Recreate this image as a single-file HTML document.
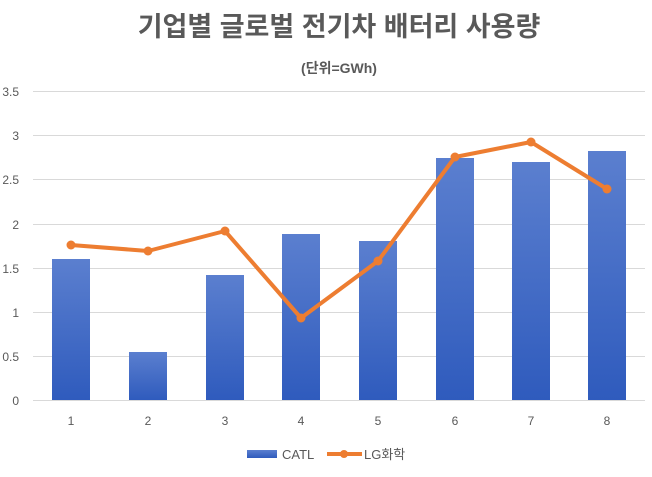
<!DOCTYPE html>
<html><head><meta charset="utf-8"><style>body{margin:0;background:#fff}</style></head><body>
<svg width="652" height="472" xmlns="http://www.w3.org/2000/svg" font-family="'Liberation Sans','Noto Sans CJK KR',sans-serif">
<defs><linearGradient id="g" x1="0" y1="0" x2="0" y2="1"><stop offset="0" stop-color="#5b7fcf"/><stop offset="1" stop-color="#2f5bbd"/></linearGradient></defs>
<rect width="652" height="472" fill="#fff"/>
<text x="339" y="36" text-anchor="middle" font-size="27" font-weight="bold" fill="#595959">기업별 글로벌 전기차 배터리 사용량</text>
<text x="339" y="73" text-anchor="middle" font-size="14" font-weight="bold" fill="#595959">(단위=GWh)</text>
<g stroke="#d9d9d9" stroke-width="1">
<line x1="33" y1="91.5" x2="645" y2="91.5"/><line x1="33" y1="135.5" x2="645" y2="135.5"/><line x1="33" y1="179.5" x2="645" y2="179.5"/><line x1="33" y1="224.5" x2="645" y2="224.5"/><line x1="33" y1="268.5" x2="645" y2="268.5"/><line x1="33" y1="312.5" x2="645" y2="312.5"/><line x1="33" y1="356.5" x2="645" y2="356.5"/><line x1="33" y1="400.5" x2="645" y2="400.5"/>
</g>
<g font-size="12" fill="#595959" text-anchor="end">
<text x="19" y="96">3.5</text><text x="19" y="140">3</text><text x="19" y="184">2.5</text><text x="19" y="229">2</text><text x="19" y="273">1.5</text><text x="19" y="317">1</text><text x="19" y="361">0.5</text><text x="19" y="405">0</text>
</g>
<g fill="url(#g)">
<rect x="52" y="259" width="38" height="141"/><rect x="129" y="352" width="38" height="48"/><rect x="206" y="275" width="38" height="125"/><rect x="282" y="234" width="38" height="166"/><rect x="359" y="241" width="38" height="159"/><rect x="436" y="158" width="38" height="242"/><rect x="512" y="162" width="38" height="238"/><rect x="588" y="151" width="38" height="249"/>
</g>
<polyline fill="none" stroke="#ed7d31" stroke-width="4" stroke-linejoin="round" points="71,245 148,251 225,231 301,318 378,261 455,157 531,142 607,189"/>
<g fill="#ed7d31"><circle cx="71" cy="245" r="4.5"/><circle cx="148" cy="251" r="4.5"/><circle cx="225" cy="231" r="4.5"/><circle cx="301" cy="318" r="4.5"/><circle cx="378" cy="261" r="4.5"/><circle cx="455" cy="157" r="4.5"/><circle cx="531" cy="142" r="4.5"/><circle cx="607" cy="189" r="4.5"/></g>
<g font-size="12" fill="#595959" text-anchor="middle">
<text x="71" y="425">1</text><text x="148" y="425">2</text><text x="225" y="425">3</text><text x="301" y="425">4</text><text x="378" y="425">5</text><text x="455" y="425">6</text><text x="531" y="425">7</text><text x="607" y="425">8</text>
</g>
<rect x="247" y="450" width="30" height="8" fill="url(#g)"/>
<text x="282" y="459" font-size="13" fill="#595959">CATL</text>
<line x1="327" y1="454" x2="362" y2="454" stroke="#ed7d31" stroke-width="4"/><circle cx="344" cy="454" r="4" fill="#ed7d31"/>
<text x="364" y="459" font-size="13" fill="#595959">LG화학</text>
</svg>
</body></html>
